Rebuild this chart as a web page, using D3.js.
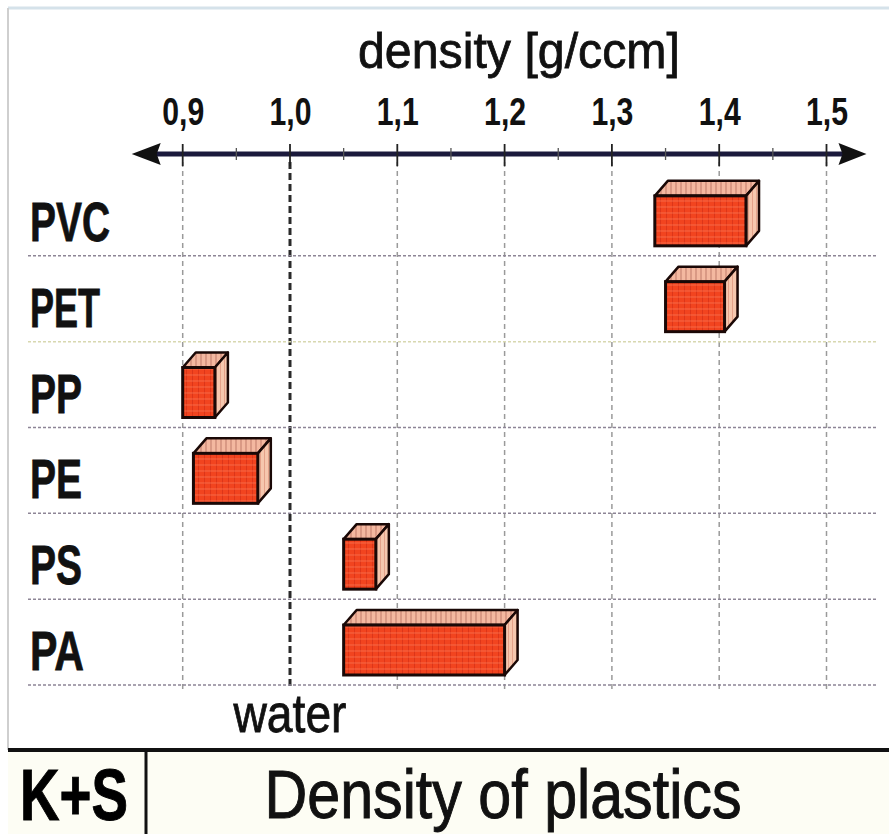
<!DOCTYPE html>
<html>
<head>
<meta charset="utf-8">
<script src="https://cdn.jsdelivr.net/npm/d3@7/dist/d3.min.js"></script>
<style>
  html, body { margin: 0; padding: 0; background: #ffffff; }
  svg { display: block; }
</style>
</head>
<body>
<svg id="chart" width="889" height="834"></svg>
<script>
// ---------- data ----------
const categories = ["PVC", "PET", "PP", "PE", "PS", "PA"];
const densityMin = [1.34, 1.35, 0.90, 0.91, 1.05, 1.05];
const densityMax = [1.425, 1.405, 0.93, 0.97, 1.08, 1.20];
const tickValues = [0.9, 1.0, 1.1, 1.2, 1.3, 1.4, 1.5];
const tickLabels = ["0,9", "1,0", "1,1", "1,2", "1,3", "1,4", "1,5"];
const minorTicks = [0.95, 1.05, 1.15, 1.25, 1.35, 1.45];
const waterDensity = 1.0;
const axisTitle = "density [g/ccm]";
const waterLabel = "water";
const chartTitle = "Density of plastics";
const logoText = "K+S";

// ---------- setup ----------
const FONT = "'Liberation Sans Narrow', 'Arial Narrow', 'Liberation Sans', Arial, sans-serif";
const svg = d3.select("#chart");
const x = d3.scaleLinear().domain([0.9, 1.5]).range([182.7, 826.5]);
const y = d3.scaleBand().domain(categories).range([170, 685]).padding(0);
const axisY = 154;

const defs = svg.append("defs");
const pf = defs.append("pattern").attr("id", "pFront").attr("patternUnits", "userSpaceOnUse")
  .attr("width", 6).attr("height", 6);
pf.append("rect").attr("width", 6).attr("height", 6).attr("fill", "#f2441f");
pf.append("line").attr("x1", 0.5).attr("x2", 0.5).attr("y1", 0).attr("y2", 6)
  .attr("stroke", "#d42e16").attr("stroke-width", 1).attr("opacity", 0.7);
pf.append("line").attr("x1", 0).attr("x2", 6).attr("y1", 3).attr("y2", 3)
  .attr("stroke", "#f98060").attr("stroke-width", 1).attr("opacity", 0.6);
const pt = defs.append("pattern").attr("id", "pTop").attr("patternUnits", "userSpaceOnUse")
  .attr("width", 5).attr("height", 5);
pt.append("rect").attr("width", 5).attr("height", 5).attr("fill", "#f4b8a0");
pt.append("line").attr("x1", 1).attr("x2", 1).attr("y1", 0).attr("y2", 5)
  .attr("stroke", "#c98472").attr("stroke-width", 1.2);
const ps = defs.append("pattern").attr("id", "pSide").attr("patternUnits", "userSpaceOnUse")
  .attr("width", 4).attr("height", 4);
ps.append("rect").attr("width", 4).attr("height", 4).attr("fill", "#f6c7ae");
ps.append("line").attr("x1", 0.5).attr("x2", 0.5).attr("y1", 0).attr("y2", 4)
  .attr("stroke", "#e4a28a").attr("stroke-width", 1);

// ---------- frame ----------
svg.append("rect").attr("x", 8).attr("y", 750).attr("width", 881).attr("height", 84).attr("fill", "#fdfdf4");
svg.append("line").attr("x1", 8).attr("x2", 889).attr("y1", 8).attr("y2", 8)
  .attr("stroke", "#d5e2ea").attr("stroke-width", 3);
svg.append("line").attr("x1", 8).attr("x2", 8).attr("y1", 8).attr("y2", 750)
  .attr("stroke", "#cfcfcf").attr("stroke-width", 2);
svg.append("line").attr("x1", 8).attr("x2", 889).attr("y1", 750).attr("y2", 750)
  .attr("stroke", "#111").attr("stroke-width", 4);
svg.append("line").attr("x1", 146).attr("x2", 146).attr("y1", 750).attr("y2", 834)
  .attr("stroke", "#111").attr("stroke-width", 3);

// ---------- grid ----------
const grid = svg.append("g");
grid.selectAll("line.v").data(tickValues).join("line")
  .attr("class", "v")
  .attr("x1", d => x(d)).attr("x2", d => x(d))
  .attr("y1", axisY + 8).attr("y2", 690)
  .attr("stroke", d => d === waterDensity ? "#2a2a2a" : "#9a9a9a")
  .attr("stroke-width", d => d === waterDensity ? 3 : 1.5)
  .attr("stroke-dasharray", d => d === waterDensity ? "7,4" : "5,4");

const sepY = categories.map(c => y(c) + y.bandwidth());
grid.selectAll("line.h").data(sepY).join("line")
  .attr("class", "h")
  .attr("x1", 28).attr("x2", 876)
  .attr("y1", d => d).attr("y2", d => d)
  .attr("stroke", (d, i) => i === 1 ? "#d8d8b0" : "#8d8596")
  .attr("stroke-width", 1.5)
  .attr("stroke-dasharray", "3,2");

// ---------- axis ----------
const axis = d3.axisTop(x).tickValues(tickValues)
  .tickFormat((d, i) => tickLabels[i]).tickSize(0).tickPadding(29);
const gAxis = svg.append("g").attr("transform", `translate(0,${axisY})`).call(axis);
gAxis.select(".domain").remove();
gAxis.selectAll("text")
  .attr("font-family", FONT).attr("font-weight", "bold").attr("font-size", 38)
  .attr("fill", "#111").attr("textLength", 42).attr("lengthAdjust", "spacingAndGlyphs");

svg.append("line").attr("x1", 150).attr("x2", 850).attr("y1", axisY).attr("y2", axisY)
  .attr("stroke", "#1b1a3c").attr("stroke-width", 5);
svg.append("path")
  .attr("d", `M${x.range()[0] - 51},${axisY} L${x.range()[0] - 22},${axisY - 11} L${x.range()[0] - 26},${axisY} L${x.range()[0] - 22},${axisY + 11} Z`)
  .attr("fill", "#111");
svg.append("path")
  .attr("d", `M${x.range()[1] + 40},${axisY} L${x.range()[1] + 12},${axisY - 11} L${x.range()[1] + 16},${axisY} L${x.range()[1] + 12},${axisY + 11} Z`)
  .attr("fill", "#111");
svg.selectAll("line.mt").data(tickValues).join("line").attr("class", "mt")
  .attr("x1", d => x(d)).attr("x2", d => x(d)).attr("y1", axisY - 10).attr("y2", axisY + 12)
  .attr("stroke", "#222").attr("stroke-width", 1.8);
svg.selectAll("line.nt").data(minorTicks).join("line").attr("class", "nt")
  .attr("x1", d => x(d)).attr("x2", d => x(d)).attr("y1", axisY - 6).attr("y2", axisY + 6)
  .attr("stroke", "#555").attr("stroke-width", 1.3);

svg.append("text").attr("x", 519).attr("y", 68).attr("text-anchor", "middle")
  .attr("font-family", FONT).attr("font-size", 50).attr("fill", "#111")
  .attr("stroke", "#111").attr("stroke-width", 0.8)
  .attr("textLength", 322).attr("lengthAdjust", "spacingAndGlyphs")
  .text(axisTitle);

// ---------- category labels ----------
const labelW = { PVC: 80, PET: 70, PP: 52, PE: 52, PS: 52, PA: 54 };
svg.selectAll("text.cat").data(categories).join("text").attr("class", "cat")
  .attr("x", 30).attr("y", d => y(d) + y.bandwidth() - 15)
  .attr("font-family", FONT).attr("font-weight", "bold").attr("font-size", 55)
  .attr("fill", "#111").attr("stroke", "#111").attr("stroke-width", 0.8)
  .attr("textLength", d => labelW[d]).attr("lengthAdjust", "spacingAndGlyphs")
  .text(d => d);

// ---------- 3D boxes ----------
const DX = 13, DY = -15, H = 50;
const boxes = categories.map((c, i) => ({ c, lo: densityMin[i], hi: densityMax[i] }));
const gBox = svg.append("g").selectAll("g").data(boxes).join("g");
gBox.each(function (d) {
  const g = d3.select(this);
  const x0 = x(d.lo), x1 = x(d.hi);
  const yb = y(d.c) + y.bandwidth() - 10, yt = yb - H;
  g.append("path")
    .attr("d", `M${x0},${yt} L${x0 + DX},${yt + DY} L${x1 + DX},${yt + DY} L${x1},${yt} Z`)
    .attr("fill", "url(#pTop)").attr("stroke", "#1a0806").attr("stroke-width", 2.5).attr("stroke-linejoin", "round");
  g.append("path")
    .attr("d", `M${x1},${yt} L${x1 + DX},${yt + DY} L${x1 + DX},${yb + DY} L${x1},${yb} Z`)
    .attr("fill", "url(#pSide)").attr("stroke", "#1a0806").attr("stroke-width", 2.5).attr("stroke-linejoin", "round");
  g.append("rect").attr("x", x0).attr("y", yt).attr("width", x1 - x0).attr("height", H)
    .attr("fill", "url(#pFront)").attr("stroke", "#1a0806").attr("stroke-width", 3);
});

// ---------- water label ----------
svg.append("text").attr("x", x(waterDensity)).attr("y", 732).attr("text-anchor", "middle")
  .attr("font-family", FONT).attr("font-size", 54).attr("fill", "#111")
  .attr("stroke", "#111").attr("stroke-width", 0.8)
  .attr("textLength", 113).attr("lengthAdjust", "spacingAndGlyphs")
  .text(waterLabel);

// ---------- footer ----------
svg.append("text").attr("x", 20).attr("y", 820)
  .attr("font-family", FONT).attr("font-weight", "bold").attr("font-size", 72).attr("fill", "#000")
  .attr("stroke", "#000").attr("stroke-width", 1)
  .attr("textLength", 108).attr("lengthAdjust", "spacingAndGlyphs")
  .text(logoText);

svg.append("text").attr("x", 503).attr("y", 818).attr("text-anchor", "middle")
  .attr("font-family", FONT).attr("font-size", 68).attr("fill", "#111")
  .attr("stroke", "#111").attr("stroke-width", 1)
  .attr("textLength", 477).attr("lengthAdjust", "spacingAndGlyphs")
  .text(chartTitle);
</script>
</body>
</html>
